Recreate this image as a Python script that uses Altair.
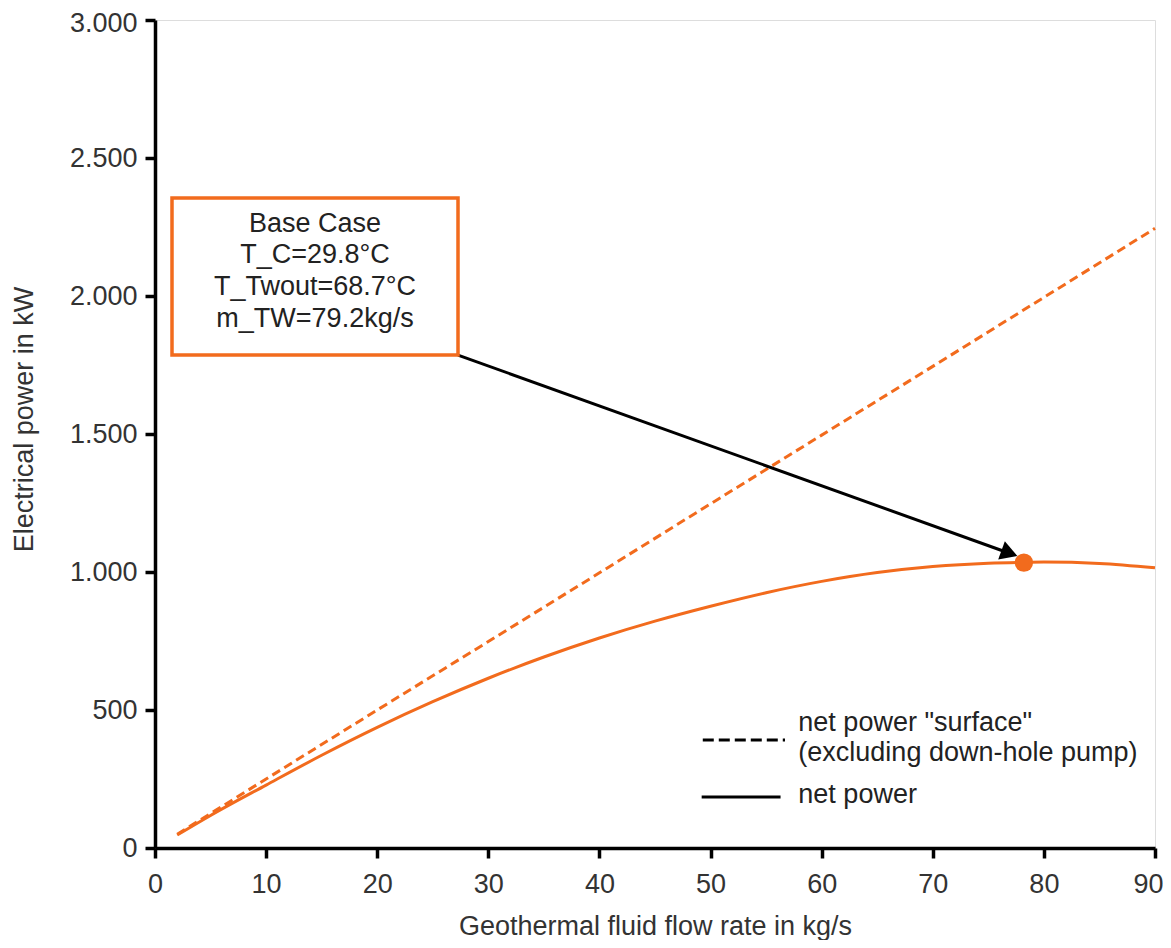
import altair as alt
import pandas as pd

# ---- data ----
flow_solid = [2, 5, 10, 15, 20, 25, 30, 35, 40, 45, 50, 55, 60, 65, 70, 75, 78, 80, 85, 90]
net_power = [47, 118, 228, 336, 437, 530, 615, 692, 761, 822, 876, 925, 966, 998, 1020, 1032, 1035, 1036, 1031, 1015]
flow_dashed = [2, 10, 20, 30, 40, 50, 60, 70, 80, 90]
net_power_surface = [50, 250, 500, 748, 997, 1247, 1496, 1745, 1995, 2245]
base_case_flow = [78.2]
base_case_power = [1034]
box_lines = ["Base Case", "T_C=29.8°C", "T_Twout=68.7°C", "m_TW=79.2kg/s"]
legend_labels = ['net power "surface"', "(excluding down-hole pump)", "net power"]
x_ticks = list(range(0, 91, 10))
y_ticks = list(range(0, 3001, 500))

# ---- annotation placement (data coordinates) ----
box_x = [1.53, 27.27]
box_y = [1786, 2355]
box_text_x = 14.4
box_text_y = [2261, 2149, 2033, 1917]
arrow_from = (27.27, 1786)
arrow_to = (76.9, 1068)
arrow_head = (76.9, 1068)
leg_dash = (49.3, 56.7, 391)
leg_solid = (49.2, 56.3, 185)
leg_text_x = 57.9
leg_text_y = [453, 344, 192]

ORANGE = "#F26B1D"
FONT = "Liberation Sans"
TXT = "#333333"
FS = 27

xscale = alt.Scale(domain=[0, 90], nice=False, zero=False)
yscale = alt.Scale(domain=[0, 3000], nice=False, zero=False)

xaxis = alt.Axis(values=x_ticks, title="Geothermal fluid flow rate in kg/s", grid=False,
                 domainColor="black", domainWidth=3.5, tickColor="black", tickWidth=3.5,
                 tickSize=10, labelPadding=13, labelFontSize=FS, labelFont=FONT, labelColor=TXT,
                 labelAlign={"condition": {"test": "datum.value === 90", "value": "right"}, "value": "center"},
                 labelOffset={"condition": {"test": "datum.value === 90", "value": 8}, "value": 0},
                 titleFontSize=FS, titleFont=FONT, titleColor=TXT, titleFontWeight="normal",
                 titleBaseline="alphabetic", titleY=86, labelFlush=False)
yaxis = alt.Axis(values=y_ticks, title="Electrical power in kW", grid=False,
                 domainColor="black", domainWidth=3.5, tickColor="black", tickWidth=3.5,
                 tickSize=10, labelPadding=8, labelFontSize=FS, labelFont=FONT, labelColor=TXT,
                 labelExpr="replace(format(datum.value, ',d'), ',', '.')",
                 labelOffset={"condition": {"test": "datum.value === 3000", "value": 3}, "value": 0},
                 titleFontSize=FS, titleFont=FONT, titleColor=TXT, titleFontWeight="normal",
                 titleX=-117, titleY=399, labelFlush=False)

X = alt.X("x:Q", scale=xscale, axis=xaxis)
Y = alt.Y("y:Q", scale=yscale, axis=yaxis)

df_dash = pd.DataFrame({"x": flow_dashed, "y": net_power_surface})
df_solid = pd.DataFrame({"x": flow_solid, "y": net_power})
df_pt = pd.DataFrame({"x": base_case_flow, "y": base_case_power})
df_box = pd.DataFrame({"x": [box_x[0]], "x2": [box_x[1]], "y": [box_y[0]], "y2": [box_y[1]]})
df_boxtext = pd.DataFrame({"x": [box_text_x] * 4, "y": box_text_y, "t": box_lines})
df_arrow = pd.DataFrame({"x": [arrow_from[0]], "y": [arrow_from[1]],
                         "x2": [arrow_to[0]], "y2": [arrow_to[1]]})
df_head = pd.DataFrame({"x": [arrow_head[0]], "y": [arrow_head[1]]})
df_leg_dash = pd.DataFrame({"x": [leg_dash[0]], "x2": [leg_dash[1]], "y": [leg_dash[2]]})
df_leg_solid = pd.DataFrame({"x": [leg_solid[0]], "x2": [leg_solid[1]], "y": [leg_solid[2]]})
df_leg_text = pd.DataFrame({"x": [leg_text_x] * 3, "y": leg_text_y, "t": legend_labels})

dash = alt.Chart(df_dash).mark_line(color=ORANGE, strokeWidth=3, strokeDash=[9, 5]).encode(x=X, y=Y)
solid = alt.Chart(df_solid).mark_line(color=ORANGE, strokeWidth=3, interpolate="monotone").encode(x=X, y=Y)
pt = alt.Chart(df_pt).mark_circle(color=ORANGE, size=340, opacity=1).encode(x=X, y=Y)
box = alt.Chart(df_box).mark_rect(fill="white", stroke=ORANGE, strokeWidth=3.5).encode(
    x=X, x2="x2:Q", y=Y, y2="y2:Q")
boxtext = alt.Chart(df_boxtext).mark_text(fontSize=FS, font=FONT, color="#222222",
                                          align="center", baseline="middle").encode(x=X, y=Y, text="t:N")
arrow = alt.Chart(df_arrow).mark_rule(color="black", strokeWidth=3).encode(
    x=X, y=Y, x2="x2:Q", y2="y2:Q")
head = alt.Chart(df_head).mark_point(shape="triangle-right", filled=True, color="black",
                                     size=380, angle=20, opacity=1).encode(x=X, y=Y)
leg_d = alt.Chart(df_leg_dash).mark_rule(color="black", strokeWidth=3, strokeDash=[11, 5]).encode(
    x=X, x2="x2:Q", y=Y)
leg_s = alt.Chart(df_leg_solid).mark_rule(color="black", strokeWidth=3).encode(x=X, x2="x2:Q", y=Y)
leg_t = alt.Chart(df_leg_text).mark_text(fontSize=FS, font=FONT, color="#222222",
                                         align="left", baseline="middle").encode(x=X, y=Y, text="t:N")

chart = alt.layer(dash, solid, arrow, head, pt, box, boxtext, leg_d, leg_s, leg_t).properties(
    width=1000, height=828,
    autosize=alt.AutoSizeParams(type="none"),
    padding={"left": 147, "top": 12, "right": 8, "bottom": 92},
).configure_view(stroke="#9a9a9a", strokeWidth=1.2).configure(background="white")

chart.save("out.html", embed_options={"renderer": "svg", "actions": False})
